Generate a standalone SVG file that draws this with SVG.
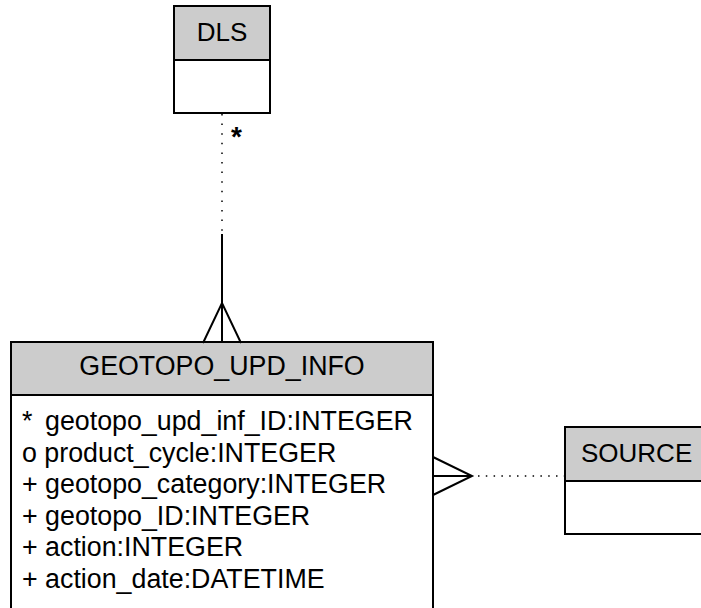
<svg xmlns="http://www.w3.org/2000/svg" width="701" height="608" viewBox="0 0 701 608">
<style>
.box{fill:#ffffff;stroke:#000;stroke-width:2}
.hdr{fill:#cccccc;stroke:#000;stroke-width:2}
.t{font-family:"Liberation Sans",Arial,sans-serif;font-size:26px;fill:#000}
.g{font-size:26.8px}
.c{text-anchor:middle}
.ln{stroke:#000;stroke-width:2;fill:none}
.dot{stroke:#000;stroke-width:1.5;fill:none}
</style>
<rect width="701" height="608" fill="#fff"/>
<g id="DLS">
<rect class="box" x="174" y="6" width="96" height="107"/>
<rect class="hdr" x="174" y="6" width="96" height="54"/>
<text class="t c" x="222" y="41">DLS</text>
</g>
<g id="GEOTOPO_UPD_INFO">
<rect class="box" x="11" y="342" width="422" height="280"/>
<rect class="hdr" x="11" y="342" width="422" height="53"/>
<text class="t g c" x="222" y="375">GEOTOPO_UPD_INFO</text>
<text class="t g" x="22" y="430">*<tspan x="45">geotopo_upd_inf_ID:INTEGER</tspan></text>
<text class="t g" x="22" y="461.5">o product_cycle:INTEGER</text>
<text class="t g" x="22" y="493">+ geotopo_category:INTEGER</text>
<text class="t g" x="22" y="524.5">+ geotopo_ID:INTEGER</text>
<text class="t g" x="22" y="556">+ action:INTEGER</text>
<text class="t g" x="22" y="587.5">+ action_date:DATETIME</text>
</g>
<g id="SOURCE">
<rect class="box" x="565" y="427" width="150" height="107"/>
<rect class="hdr" x="565" y="427" width="150" height="54"/>
<text class="t" x="581" y="462">SOURCE</text>
</g>
<g id="connectors">
<line class="dot" x1="222" y1="114" x2="222" y2="231" stroke-dasharray="1.5 8.1"/>
<line class="ln" x1="222" y1="234" x2="222" y2="343"/>
<polyline class="ln" points="203,343 222,303 241,343"/>
<text x="231" y="146" style="font-family:'Liberation Sans',Arial,sans-serif;font-size:28px;font-weight:bold">*</text>
<line class="ln" x1="433" y1="476" x2="472" y2="476"/>
<polyline class="ln" points="433,457 472,476 433,495"/>
<line class="dot" x1="478" y1="476" x2="564" y2="476" stroke-dasharray="1.5 6.3"/>
</g>
</svg>
